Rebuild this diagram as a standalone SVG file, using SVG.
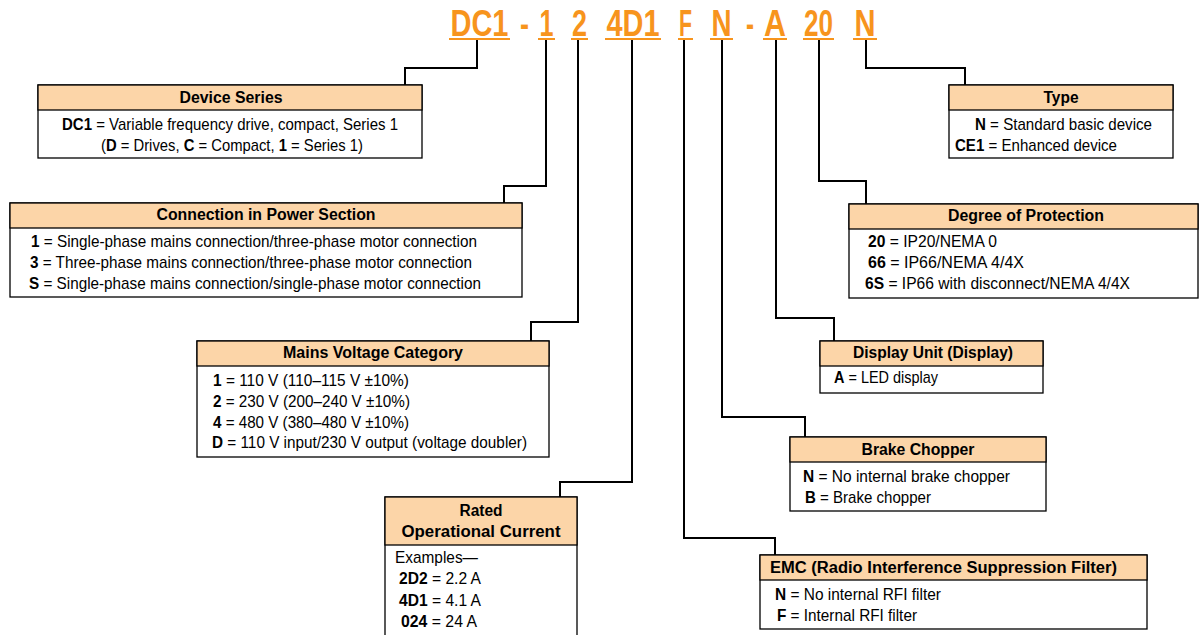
<svg xmlns="http://www.w3.org/2000/svg" width="1199" height="635" viewBox="0 0 1199 635">
<style>
.t{font-family:"Liberation Sans",Arial,sans-serif;font-weight:bold;font-size:36px;fill:#F7941D;text-anchor:middle}
.ul{stroke:#F7941D;stroke-width:2.2;fill:none}
.box{fill:#fff;stroke:#000;stroke-width:1.3}
.hd{fill:#FCD5A8;stroke:#000;stroke-width:1.3}
.h{font-family:"Liberation Sans",Arial,sans-serif;font-weight:bold;font-size:16px;fill:#000;text-anchor:middle}
.b{font-family:"Liberation Sans",Arial,sans-serif;font-size:17px;fill:#000}
.k{font-weight:bold}
.c{stroke:#000;stroke-width:2;fill:none}
</style>
<rect width="1199" height="635" fill="#fff"/>
<g id="code">
<text class="t" x="479.5" y="36" textLength="58" lengthAdjust="spacingAndGlyphs">DC1</text>
<text class="t" x="524.5" y="36" textLength="9" lengthAdjust="spacingAndGlyphs">-</text>
<text class="t" x="546.5" y="36" textLength="14" lengthAdjust="spacingAndGlyphs">1</text>
<text class="t" x="579.5" y="36" textLength="15" lengthAdjust="spacingAndGlyphs">2</text>
<text class="t" x="633" y="36" textLength="53" lengthAdjust="spacingAndGlyphs">4D1</text>
<text class="t" x="685.5" y="36" textLength="13" lengthAdjust="spacingAndGlyphs">F</text>
<text class="t" x="721.5" y="36" textLength="20" lengthAdjust="spacingAndGlyphs">N</text>
<text class="t" x="750" y="36" textLength="8" lengthAdjust="spacingAndGlyphs">-</text>
<text class="t" x="775" y="36" textLength="22" lengthAdjust="spacingAndGlyphs">A</text>
<text class="t" x="818.5" y="36" textLength="29" lengthAdjust="spacingAndGlyphs">20</text>
<text class="t" x="865" y="36" textLength="21" lengthAdjust="spacingAndGlyphs">N</text>
<path class="ul" d="M449 39H510M538 39H555M571 39H588M605 39H661M678 39H693M710 39H733M763 39H787M803 39H834M853 39H877"/>
</g>
<g id="connectors">
<path class="c" d="M477 40V68H405V85"/>
<path class="c" d="M546 40V186H504V203"/>
<path class="c" d="M578 40V322H531V341"/>
<path class="c" d="M632 40V482H560V497"/>
<path class="c" d="M684 40V538H775V555"/>
<path class="c" d="M722 40V417H805V437"/>
<path class="c" d="M776 40V318H834V341"/>
<path class="c" d="M819 40V181H866V204"/>
<path class="c" d="M866 40V68H965V85"/>
</g>
<g id="device-series">
<rect class="box" x="38" y="85" width="384" height="73"/>
<rect class="hd" x="38" y="85" width="384" height="25"/>
<text class="h" x="231" y="103" textLength="103" lengthAdjust="spacingAndGlyphs">Device Series</text>
<text class="b" x="62" y="130" textLength="336" lengthAdjust="spacingAndGlyphs"><tspan class="k">DC1</tspan> = Variable frequency drive, compact, Series 1</text>
<text class="b" x="101" y="151" textLength="262" lengthAdjust="spacingAndGlyphs">(<tspan class="k">D</tspan> = Drives, <tspan class="k">C</tspan> = Compact, <tspan class="k">1</tspan> = Series 1)</text>
</g>
<g id="connection">
<rect class="box" x="10" y="203" width="512" height="94"/>
<rect class="hd" x="10" y="203" width="512" height="25"/>
<text class="h" x="266" y="220" textLength="219" lengthAdjust="spacingAndGlyphs">Connection in Power Section</text>
<text class="b" x="31" y="247" textLength="446" lengthAdjust="spacingAndGlyphs"><tspan class="k">1</tspan> = Single-phase mains connection/three-phase motor connection</text>
<text class="b" x="30" y="268" textLength="442" lengthAdjust="spacingAndGlyphs"><tspan class="k">3</tspan> = Three-phase mains connection/three-phase motor connection</text>
<text class="b" x="29" y="289" textLength="452" lengthAdjust="spacingAndGlyphs"><tspan class="k">S</tspan> = Single-phase mains connection/single-phase motor connection</text>
</g>
<g id="mains-voltage">
<rect class="box" x="197" y="341" width="352" height="116"/>
<rect class="hd" x="197" y="341" width="352" height="25"/>
<text class="h" x="373" y="358" textLength="180" lengthAdjust="spacingAndGlyphs">Mains Voltage Category</text>
<text class="b" x="213" y="386" textLength="196" lengthAdjust="spacingAndGlyphs"><tspan class="k">1</tspan> = 110 V (110–115 V ±10%)</text>
<text class="b" x="213" y="407" textLength="197" lengthAdjust="spacingAndGlyphs"><tspan class="k">2</tspan> = 230 V (200–240 V ±10%)</text>
<text class="b" x="213" y="428" textLength="196" lengthAdjust="spacingAndGlyphs"><tspan class="k">4</tspan> = 480 V (380–480 V ±10%)</text>
<text class="b" x="212" y="448" textLength="315" lengthAdjust="spacingAndGlyphs"><tspan class="k">D</tspan> = 110 V input/230 V output (voltage doubler)</text>
</g>
<g id="rated-current">
<rect class="box" x="385" y="497" width="192" height="145"/>
<rect class="hd" x="385" y="497" width="192" height="48"/>
<text class="h" x="481" y="516" textLength="43" lengthAdjust="spacingAndGlyphs">Rated</text>
<text class="h" x="481" y="537" textLength="159" lengthAdjust="spacingAndGlyphs">Operational Current</text>
<text class="b" x="395" y="563" textLength="83" lengthAdjust="spacingAndGlyphs">Examples—</text>
<text class="b" x="399" y="584" textLength="82" lengthAdjust="spacingAndGlyphs"><tspan class="k">2D2</tspan> = 2.2 A</text>
<text class="b" x="399" y="606" textLength="82" lengthAdjust="spacingAndGlyphs"><tspan class="k">4D1</tspan> = 4.1 A</text>
<text class="b" x="401" y="627" textLength="76" lengthAdjust="spacingAndGlyphs"><tspan class="k">024</tspan> = 24 A</text>
</g>
<g id="type">
<rect class="box" x="949" y="85" width="224" height="73"/>
<rect class="hd" x="949" y="85" width="224" height="25"/>
<text class="h" x="1061" y="103" textLength="35" lengthAdjust="spacingAndGlyphs">Type</text>
<text class="b" x="975" y="130" textLength="177" lengthAdjust="spacingAndGlyphs"><tspan class="k">N</tspan> = Standard basic device</text>
<text class="b" x="955" y="151" textLength="162" lengthAdjust="spacingAndGlyphs"><tspan class="k">CE1</tspan> = Enhanced device</text>
</g>
<g id="protection">
<rect class="box" x="849" y="204" width="349" height="94"/>
<rect class="hd" x="849" y="204" width="349" height="25"/>
<text class="h" x="1026" y="221" textLength="156" lengthAdjust="spacingAndGlyphs">Degree of Protection</text>
<text class="b" x="868" y="247" textLength="129" lengthAdjust="spacingAndGlyphs"><tspan class="k">20</tspan> = IP20/NEMA 0</text>
<text class="b" x="868" y="268" textLength="156" lengthAdjust="spacingAndGlyphs"><tspan class="k">66</tspan> = IP66/NEMA 4/4X</text>
<text class="b" x="865" y="289" textLength="265" lengthAdjust="spacingAndGlyphs"><tspan class="k">6S</tspan> = IP66 with disconnect/NEMA 4/4X</text>
</g>
<g id="display">
<rect class="box" x="820" y="341" width="223" height="52"/>
<rect class="hd" x="820" y="341" width="223" height="25"/>
<text class="h" x="933" y="358" textLength="160" lengthAdjust="spacingAndGlyphs">Display Unit (Display)</text>
<text class="b" x="834" y="383" textLength="104" lengthAdjust="spacingAndGlyphs"><tspan class="k">A</tspan> = LED display</text>
</g>
<g id="brake">
<rect class="box" x="790" y="437" width="256" height="74"/>
<rect class="hd" x="790" y="437" width="256" height="25"/>
<text class="h" x="918" y="455" textLength="113" lengthAdjust="spacingAndGlyphs">Brake Chopper</text>
<text class="b" x="803" y="482" textLength="207" lengthAdjust="spacingAndGlyphs"><tspan class="k">N</tspan> = No internal brake chopper</text>
<text class="b" x="805" y="503" textLength="126" lengthAdjust="spacingAndGlyphs"><tspan class="k">B</tspan> = Brake chopper</text>
</g>
<g id="emc">
<rect class="box" x="760" y="555" width="387" height="74"/>
<rect class="hd" x="760" y="555" width="387" height="25"/>
<text class="h" x="943.5" y="573" textLength="347" lengthAdjust="spacingAndGlyphs">EMC (Radio Interference Suppression Filter)</text>
<text class="b" x="775" y="600" textLength="166" lengthAdjust="spacingAndGlyphs"><tspan class="k">N</tspan> = No internal RFI filter</text>
<text class="b" x="777" y="621" textLength="140" lengthAdjust="spacingAndGlyphs"><tspan class="k">F</tspan> = Internal RFI filter</text>
</g>
</svg>
